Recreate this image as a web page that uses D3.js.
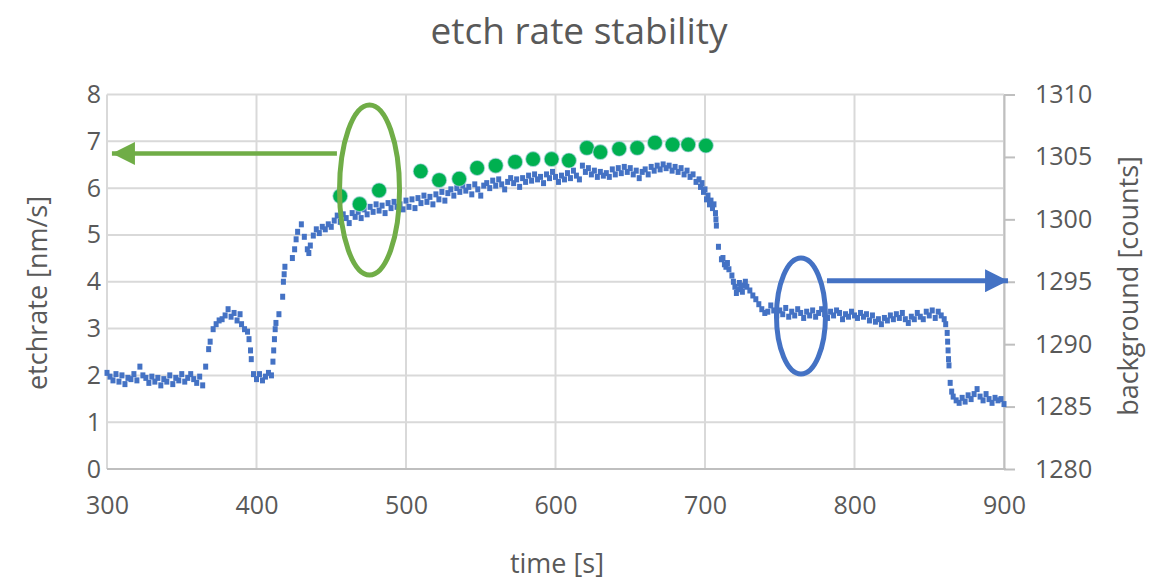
<!DOCTYPE html>
<html>
<head>
<meta charset="utf-8">
<script src="https://cdn.jsdelivr.net/npm/d3@7"></script>
<style>
  body { margin: 0; background: #fff; }
  text { font-family: "Open Sans", sans-serif; fill: #595959; }
</style>
</head>
<body>
<svg id="chart" width="1173" height="580"></svg>
<script>

// Axis ticks
const timeTicks = [300, 400, 500, 600, 700, 800, 900];
const etchTicks = [0, 1, 2, 3, 4, 5, 6, 7, 8];
const countTicks = [1280, 1285, 1290, 1295, 1300, 1305, 1310];

// Etch rate points: [time s, etchrate nm/s]
const etchRate = [
    [456, 5.83], [469, 5.66], [482, 5.95], [509.8, 6.36], [522.2, 6.17], [535.6, 6.20],
    [547.6, 6.43], [560, 6.48], [573, 6.56], [585, 6.62], [597.4, 6.62], [609, 6.59],
    [621, 6.86], [630, 6.77], [642.6, 6.84], [654.7, 6.86], [666.5, 6.97], [678.3, 6.93],
    [688.8, 6.93], [700.6, 6.91]
];

// Background signal: [time s, counts]
const background = [
    [300, 1287.7], [302, 1287.4], [304, 1287.1], [306, 1287.6], [308, 1287.0], [310, 1287.5],
    [312, 1286.8], [314, 1287.3], [316, 1287.2], [318, 1287.6], [320, 1287.1], [322, 1288.2],
    [324, 1287.5], [326, 1287.3], [328, 1286.9], [330, 1287.4], [332, 1287.0], [334, 1287.3],
    [336, 1286.7], [338, 1287.2], [340, 1287.0], [342, 1287.5], [344, 1286.8], [346, 1287.3],
    [348, 1287.1], [350, 1287.6], [352, 1287.0], [354, 1287.3], [356, 1287.6], [358, 1287.2],
    [360, 1286.9], [362, 1287.4], [364, 1286.7], [366, 1288.2],
    [368, 1289.6], [369, 1290.2], [371, 1291.2], [373, 1291.6], [375, 1291.9], [377, 1292.0],
    [379, 1292.3], [381, 1292.8], [383, 1292.2], [385, 1292.5], [387, 1291.9], [389, 1292.4],
    [390, 1291.6], [392, 1291.2], [394, 1291.0], [395, 1290.4], [396, 1289.5], [396.5, 1288.8],
    [398, 1287.6], [400, 1287.2], [402, 1287.6], [404, 1287.1], [406, 1287.4], [408, 1287.7],
    [410, 1287.5],
    [411, 1288.6], [411.5, 1289.5], [412, 1290.4], [412.5, 1291.2], [413, 1291.7],
    [415, 1292.4], [417.5, 1293.8], [418, 1295.0], [418.5, 1295.6], [419, 1296.2],
    [424, 1296.9], [425.5, 1297.6], [426.5, 1298.4], [427.5, 1299.0], [430, 1299.6],
    [432, 1298.6], [434, 1297.6], [435, 1297.3], [436, 1297.9], [438, 1298.7], [440, 1299.2],
    [442, 1298.9], [444, 1299.4], [446, 1299.2], [448, 1299.6], [450, 1299.4], [452, 1299.9],
    [454, 1300.3], [456, 1299.8], [458, 1300.4], [460, 1300.1], [462, 1299.7], [464, 1300.5],
    [466, 1300.2], [468, 1300.6], [470, 1300.1], [472, 1300.8], [474, 1300.4], [476, 1301.0],
    [478, 1300.6], [480, 1301.2], [482, 1300.7], [484, 1301.1], [486, 1300.5], [488, 1301.3],
    [490, 1300.9], [492, 1301.4], [494, 1301.0], [496, 1301.2], [498, 1300.8], [500, 1301.5],
    [502, 1301.0], [504, 1301.6], [506, 1300.9], [508, 1301.7], [510, 1301.3], [512, 1301.9],
    [514, 1301.4], [516, 1301.8], [518, 1301.2], [520, 1302.0], [522, 1301.6], [524, 1302.2],
    [526, 1301.5], [528, 1302.1], [530, 1302.4], [532, 1301.9], [534, 1302.5], [536, 1302.2],
    [538, 1302.7], [540, 1302.3], [542, 1302.6], [544, 1302.0], [546, 1302.8], [548, 1302.4],
    [550, 1301.9], [552, 1302.7], [554, 1302.9], [556, 1302.5], [558, 1303.1], [560, 1302.7],
    [562, 1303.2], [564, 1302.8], [566, 1302.4], [568, 1303.0], [570, 1303.3], [572, 1302.9],
    [574, 1303.2], [576, 1302.6], [578, 1303.3], [580, 1303.0], [582, 1303.5], [584, 1303.1],
    [586, 1303.6], [588, 1303.2], [590, 1303.4], [592, 1302.9], [594, 1303.6], [596, 1303.3],
    [598, 1303.8], [600, 1303.4], [602, 1303.0], [604, 1303.5], [606, 1303.2], [608, 1303.7],
    [610, 1303.3], [612, 1303.9], [614, 1303.5], [616, 1303.2], [618, 1304.3], [620, 1303.8],
    [622, 1304.1], [624, 1303.6], [626, 1303.9], [628, 1303.4], [630, 1303.8], [632, 1303.5],
    [634, 1303.7], [636, 1303.4], [638, 1304.0], [640, 1303.6], [642, 1304.1], [644, 1303.7],
    [646, 1304.2], [648, 1303.8], [650, 1304.1], [652, 1303.6], [654, 1303.9], [656, 1303.3],
    [658, 1303.8], [660, 1304.0], [662, 1303.6], [664, 1304.2], [666, 1303.9], [668, 1304.3],
    [670, 1304.0], [672, 1304.4], [674, 1304.1], [676, 1304.3], [678, 1303.9], [680, 1304.2],
    [682, 1303.8], [684, 1304.1], [686, 1303.6], [688, 1303.9], [690, 1303.4], [692, 1303.6],
    [694, 1303.0], [696, 1303.2], [697, 1302.6], [698, 1302.9], [699, 1302.2], [700, 1302.4],
    [701, 1301.6], [702, 1301.9], [703, 1301.2], [704, 1301.5], [705, 1300.9], [706, 1301.2],
    [707, 1300.5], [707.3, 1300.0], [707.6, 1299.5],
    [709, 1297.8], [711, 1296.8], [712, 1296.9], [713, 1296.4], [714, 1296.2], [715, 1296.5],
    [716, 1296.0], [718, 1295.5], [719, 1295.0], [720, 1294.6], [721, 1294.1], [722, 1294.4],
    [723, 1294.9], [724, 1294.6], [725, 1294.2], [726, 1294.7], [727, 1295.0], [728, 1294.6],
    [730, 1294.3], [732, 1293.9], [734, 1293.6], [736, 1293.2], [738, 1292.8], [740, 1292.5],
    [742, 1292.6], [744, 1293.1], [746, 1292.7], [748, 1292.3], [750, 1292.7], [752, 1292.4],
    [754, 1292.9], [756, 1292.2], [758, 1292.6], [760, 1292.3], [762, 1292.8], [764, 1292.5],
    [766, 1292.1], [768, 1292.6], [770, 1292.3], [772, 1292.7], [774, 1292.2], [776, 1292.5],
    [778, 1292.8], [780, 1292.4], [782, 1292.1], [784, 1292.6], [786, 1292.3], [788, 1292.7],
    [790, 1292.5], [792, 1292.0], [794, 1292.4], [796, 1292.2], [798, 1292.6], [800, 1292.3],
    [802, 1292.1], [804, 1292.5], [806, 1292.2], [808, 1292.4], [810, 1291.9], [812, 1292.3],
    [814, 1291.8], [816, 1292.0], [818, 1291.6], [820, 1292.1], [822, 1291.9], [824, 1292.3],
    [826, 1292.0], [828, 1292.4], [830, 1292.1], [832, 1292.5], [834, 1292.0], [836, 1291.7],
    [838, 1292.2], [840, 1292.0], [842, 1292.5], [844, 1292.2], [846, 1292.0], [848, 1292.6],
    [850, 1292.3], [852, 1292.7], [854, 1292.1], [856, 1292.6], [858, 1292.3], [860, 1292.0],
    [861, 1291.6], [862, 1290.9], [862.3, 1290.2], [862.6, 1289.5], [862.9, 1288.8], [863.2, 1288.3],
    [864, 1286.9], [865, 1286.2], [866, 1285.8], [868, 1285.5], [870, 1285.3], [872, 1285.7],
    [874, 1285.4], [876, 1285.9], [878, 1285.6], [880, 1286.0], [882, 1286.4], [884, 1285.8],
    [886, 1285.5], [888, 1286.0], [890, 1285.6], [892, 1285.3], [894, 1285.7], [896, 1285.5],
    [898, 1285.6], [900, 1285.2]
];

// Annotation anchors in data units: ellipse centres and arrow ends
const greenMark = {t: 475.6, rate: 5.96, arrowRate: 6.74, arrowFrom: 453.8, arrowTo: 303.3};
const blueMark = {t: 764.2, counts: 1292.25, arrowCounts: 1295.08, arrowFrom: 781.6, arrowTo: 902.7};

const plot = {left: 107, right: 1004, top: 94.5, bottom: 469};
const gridColour = "#d9d9d9";
const axisColour = "#bfbfbf";
const blue = "#4472c4";
const green = "#00b050";
const annoGreen = "#70ad47";
const tickFont = "25px";
const titleFont = "27px";

const svg = d3.select("#chart");

// Scales
const x = d3.scaleLinear().domain([300, 900]).range([plot.left, plot.right]);
const yRate = d3.scaleLinear().domain([0, 8]).range([plot.bottom, plot.top]);
const yCounts = d3.scaleLinear().domain([1280, 1310]).range([plot.bottom, plot.top]);

// Gridlines
svg.append("g")
    .selectAll("line")
    .data(etchTicks)
    .join("line")
    .attr("x1", plot.left).attr("x2", plot.right)
    .attr("y1", d => yRate(d)).attr("y2", d => yRate(d))
    .attr("stroke", gridColour).attr("stroke-width", 2);
svg.append("g")
    .selectAll("line")
    .data(timeTicks)
    .join("line")
    .attr("x1", d => x(d)).attr("x2", d => x(d))
    .attr("y1", plot.top).attr("y2", plot.bottom)
    .attr("stroke", gridColour).attr("stroke-width", 2);

// Left axis
const leftAxis = svg.append("g")
    .attr("transform", `translate(${plot.left}, 0)`)
    .call(d3.axisLeft(yRate).tickValues(etchTicks).tickSize(0).tickPadding(6));
leftAxis.select(".domain").remove();

// Bottom axis
const bottomAxis = svg.append("g")
    .attr("transform", `translate(0, ${plot.bottom})`)
    .call(d3.axisBottom(x).tickValues(timeTicks).tickSize(0).tickPadding(27));
bottomAxis.select(".domain")
    .attr("stroke", axisColour).attr("stroke-width", 2)
    .attr("d", `M${plot.left},0H${plot.right + 2}`);

// Right axis
const rightAxis = svg.append("g")
    .attr("transform", `translate(${plot.right}, 0)`)
    .call(d3.axisRight(yCounts).tickValues(countTicks).tickFormat(d3.format("d"))
        .tickSize(11).tickPadding(20).tickSizeOuter(0));
rightAxis.selectAll("line").attr("stroke", axisColour).attr("stroke-width", 2);
rightAxis.select(".domain").attr("stroke", axisColour).attr("stroke-width", 2);

svg.selectAll(".tick text")
    .attr("fill", "#595959")
    .style("font-size", tickFont)
    .style("font-family", "'Open Sans', sans-serif");

// Background trace
svg.append("g")
    .selectAll("rect")
    .data(background)
    .join("rect")
    .attr("x", d => x(d[0]) - 2.5)
    .attr("y", d => yCounts(d[1]) - 3)
    .attr("width", 5)
    .attr("height", 6)
    .attr("fill", blue);

// Etch rate points
svg.append("g")
    .selectAll("circle")
    .data(etchRate)
    .join("circle")
    .attr("cx", d => x(d[0]))
    .attr("cy", d => yRate(d[1]))
    .attr("r", 7.5)
    .attr("fill", green)
    .attr("stroke", "#bdd7ee")
    .attr("stroke-opacity", 0.6)
    .attr("stroke-width", 1.2);

// Annotations
const defs = svg.append("defs");
function arrowHead(id, colour) {
    defs.append("marker")
        .attr("id", id)
        .attr("viewBox", "0 0 10 10")
        .attr("refX", 10).attr("refY", 5)
        .attr("markerUnits", "userSpaceOnUse")
        .attr("markerWidth", 23).attr("markerHeight", 23)
        .attr("orient", "auto")
        .append("path")
        .attr("d", "M0,0L10,5L0,10Z")
        .attr("fill", colour);
}
arrowHead("headGreen", annoGreen);
arrowHead("headBlue", blue);

svg.append("ellipse")
    .attr("cx", x(greenMark.t)).attr("cy", yRate(greenMark.rate))
    .attr("rx", 30).attr("ry", 85)
    .attr("fill", "none").attr("stroke", annoGreen).attr("stroke-width", 5);
svg.append("line")
    .attr("x1", x(greenMark.arrowFrom)).attr("x2", x(greenMark.arrowTo))
    .attr("y1", yRate(greenMark.arrowRate)).attr("y2", yRate(greenMark.arrowRate))
    .attr("stroke", annoGreen).attr("stroke-width", 4.5)
    .attr("marker-end", "url(#headGreen)");

svg.append("ellipse")
    .attr("cx", x(blueMark.t)).attr("cy", yCounts(blueMark.counts))
    .attr("rx", 24.5).attr("ry", 58)
    .attr("fill", "none").attr("stroke", blue).attr("stroke-width", 5);
svg.append("line")
    .attr("x1", x(blueMark.arrowFrom)).attr("x2", x(blueMark.arrowTo))
    .attr("y1", yCounts(blueMark.arrowCounts)).attr("y2", yCounts(blueMark.arrowCounts))
    .attr("stroke", blue).attr("stroke-width", 5)
    .attr("marker-end", "url(#headBlue)");

// Titles
svg.append("text")
    .attr("x", 579).attr("y", 44)
    .attr("text-anchor", "middle")
    .style("font-size", "37px")
    .text("etch rate stability");
svg.append("text")
    .attr("x", 557).attr("y", 573)
    .attr("text-anchor", "middle")
    .style("font-size", titleFont)
    .text("time [s]");
svg.append("text")
    .attr("transform", "translate(47, 293) rotate(-90)")
    .attr("text-anchor", "middle")
    .style("font-size", titleFont)
    .text("etchrate [nm/s]");
svg.append("text")
    .attr("transform", "translate(1138, 286) rotate(-90)")
    .attr("text-anchor", "middle")
    .style("font-size", titleFont)
    .text("background [counts]");

</script>
</body>
</html>
